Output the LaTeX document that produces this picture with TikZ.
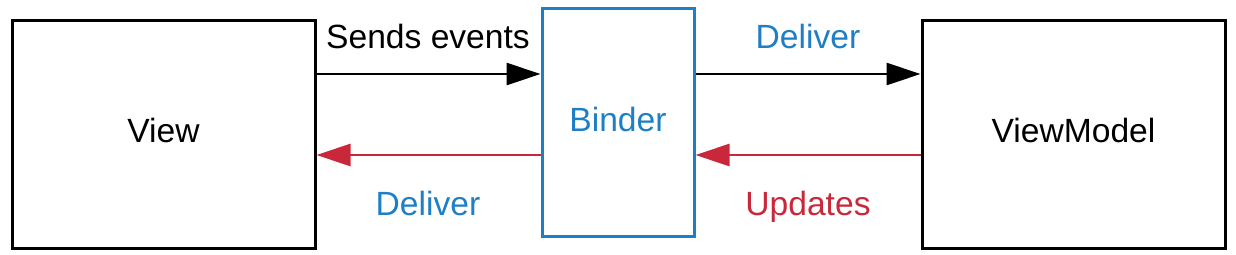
\documentclass[tikz,border=0pt]{standalone}
\usepackage{fontspec}
\setmainfont{Liberation Sans}
\usepackage{tikz}
\usetikzlibrary{arrows.meta}

\definecolor{bindblue}{RGB}{31,127,196}
\definecolor{updred}{RGB}{201,40,58}

\begin{document}
\begin{tikzpicture}
 [x=0.5pt, y=-0.5pt,
  box node/.style={rectangle, draw, line width=1.5pt, minimum width=151.5pt, minimum height=114pt, text depth=4pt, font=\fontsize{16.8}{20}\selectfont},
  binder node/.style={rectangle, draw=bindblue, line width=1.5pt, minimum width=76pt, minimum height=114pt, text depth=3pt, text=bindblue, font=\fontsize{16.8}{20}\selectfont},
  label node/.style={font=\fontsize{16.8}{20}\selectfont, inner sep=0pt, text depth=0pt},
  link/.style={line width=1.4pt, -{Triangle[length=17pt, width=11pt]}}]

\useasboundingbox (0,0) rectangle (1236,254);

\node[box node] (view) at (163.5,134) {View};
\node[binder node] (binder) at (618,122) {Binder};
\node[box node] (vm) at (1073.5,134) {ViewModel};

\coordinate (vtop) at ([yshift=30pt]view.east);
\coordinate (vbot) at ([yshift=-10.5pt]view.east);
\coordinate (mtop) at ([yshift=30pt]vm.west);
\coordinate (mbot) at ([yshift=-10.5pt]vm.west);

\path
  (vtop) edge [link] (vtop -| binder.west)
  (vbot -| binder.west) edge [link, updred] (vbot)
  (mtop -| binder.east) edge [link] (mtop)
  (mbot) edge [link, updred] (mbot -| binder.east);

\node[label node] (sends) at (428,36) {Sends events};
\node[label node, text=bindblue] (deliver1) at (808,36) {Deliver};
\node[label node, text=bindblue] (deliver2) at (428,203) {Deliver};
\node[label node, text=updred] (updates) at (808,203) {Updates};

\end{tikzpicture}
\end{document}
